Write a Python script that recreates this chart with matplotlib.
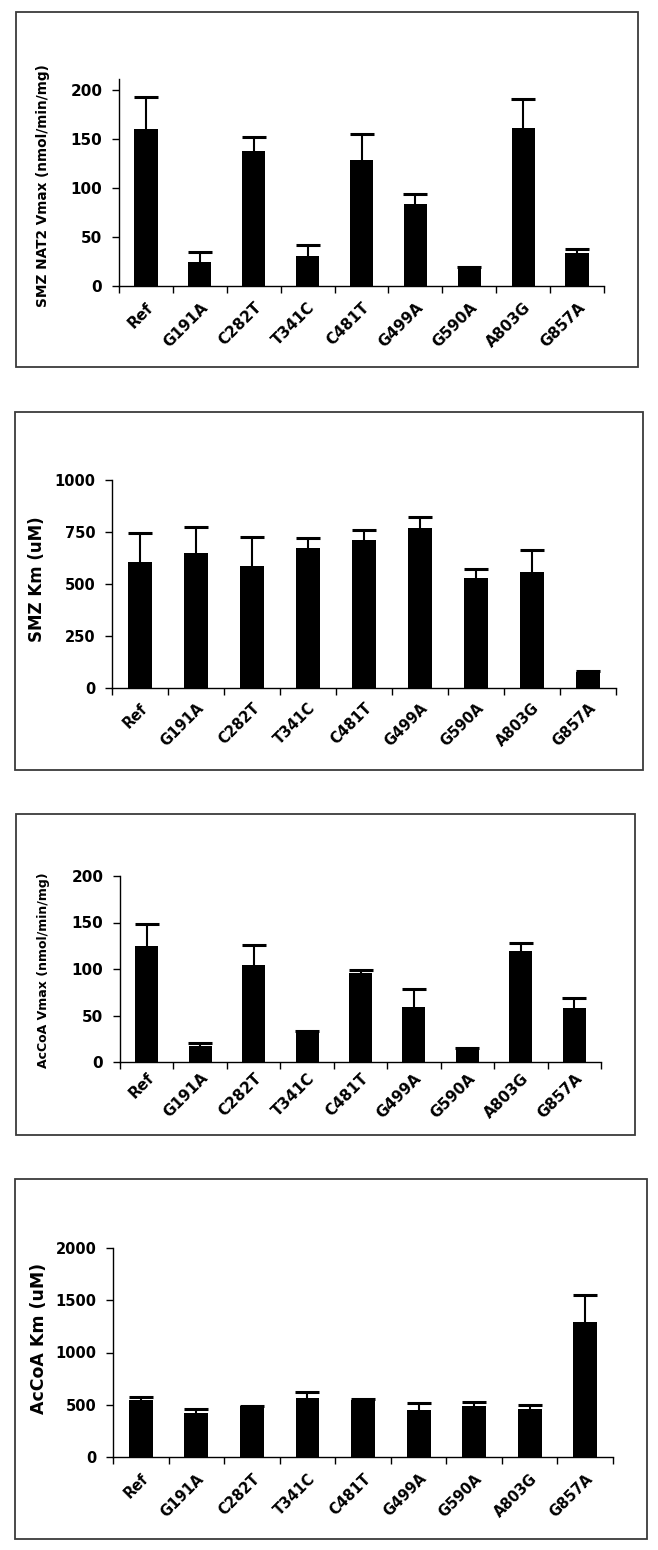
import matplotlib
matplotlib.use("Agg")
import matplotlib.pyplot as plt
from matplotlib.patches import Rectangle
from matplotlib.transforms import ScaledTranslation
import numpy as np

variants = ['Ref', 'G191A', 'C282T', 'T341C', 'C481T', 'G499A', 'G590A', 'A803G', 'G857A']

smz_vmax = [160, 24.5, 138, 31, 128, 84, 18.4, 161, 33.4]
smz_vmax_sd = [32.5, 10, 14, 11, 26.5, 10, 1, 30, 4.5]

smz_km = [604, 650, 586, 674, 710, 767, 530, 557, 77]
smz_km_sd = [141, 122, 141, 47, 48, 55, 43, 106, 6]

accoa_vmax = [124.5, 17.5, 104.5, 30.8, 95.2, 58.7, 13.2, 119.5, 58.3]
accoa_vmax_sd = [24.3, 2.5, 21.8, 2.8, 3.5, 19.7, 1.8, 8.9, 10]

accoa_km = [545, 418, 491, 565, 545, 447, 491, 456, 1292]
accoa_km_sd = [32, 41, 0, 54, 13, 67, 35, 38, 255]

plt.rcParams['font.family'] = ['DejaVu Sans']
plt.rcParams['font.weight'] = 'bold'

W, H = 658, 1550
fig = plt.figure(figsize=(W / 100, H / 100), dpi=100)


def px_rect(l, t, r, b):
    return [l / W, 1 - b / H, (r - l) / W, (b - t) / H]


panels = [
    dict(vals=smz_vmax, sd=smz_vmax_sd, ylabel='SMZ NAT2 Vmax (nmol/min/mg)',
         ylim=211, ticks=[0, 50, 100, 150, 200], ax=(119, 79, 604, 286),
         box=(16, 12, 638, 367), lsize=9.8, tsize=11, lab=(50, 186), xoff=-11, xpad=10),
    dict(vals=smz_km, sd=smz_km_sd, ylabel='SMZ Km (uM)',
         ylim=1000, ticks=[0, 250, 500, 750, 1000], ax=(112, 480, 616, 688),
         box=(15, 412, 643, 770), lsize=12, tsize=10.5, lab=(46, 579), xoff=-6, xpad=9),
    dict(vals=accoa_vmax, sd=accoa_vmax_sd, ylabel='AcCoA Vmax (nmol/min/mg)',
         ylim=200, ticks=[0, 50, 100, 150, 200], ax=(120, 876, 601, 1062),
         box=(16, 814, 635, 1135), lsize=9, tsize=11, lab=(50, 970), xoff=-11, xpad=6),
    dict(vals=accoa_km, sd=accoa_km_sd, ylabel='AcCoA Km (uM)',
         ylim=2000, ticks=[0, 500, 1000, 1500, 2000], ax=(113, 1248, 613, 1457),
         box=(15, 1179, 647, 1539), lsize=12.5, tsize=10.5, lab=(48, 1338), xoff=-5, xpad=10),
]

x = np.arange(len(variants))

for p in panels:
    l, t, r, b = p['box']
    fig.patches.append(Rectangle((l / W, 1 - b / H), (r - l) / W, (b - t) / H,
                                 transform=fig.transFigure, fill=False,
                                 edgecolor='#3a3a3a', linewidth=1.3))
    al, at, ar, ab = p['ax']
    ax = fig.add_axes(px_rect(al, at, ar, ab))
    vals = np.array(p['vals'], dtype=float)
    sd = np.array(p['sd'], dtype=float)
    ax.bar(x, vals, width=0.43, color='black', zorder=2)
    eb = ax.errorbar(x, vals, yerr=[np.zeros_like(sd), sd], fmt='none',
                     ecolor='black', elinewidth=1.5, capsize=8.5, capthick=2.2, zorder=3)
    # show only the upper cap
    caps = eb[1]
    if len(caps) >= 2:
        caps[0].set_visible(False)
    ax.set_xlim(-0.5, len(variants) - 0.5)
    ax.set_ylim(0, p['ylim'])
    ax.set_yticks(p['ticks'])
    ax.set_yticklabels([str(v) for v in p['ticks']], fontsize=p['tsize'], fontweight='bold')
    ax.set_xticks(x)
    ax.set_xticklabels(variants, rotation=45, ha='right', rotation_mode='anchor',
                       fontsize=p['tsize'], fontweight='bold')
    off = ScaledTranslation(p['xoff'] / 100, 0, fig.dpi_scale_trans)
    for lab in ax.get_xticklabels():
        lab.set_transform(lab.get_transform() + off)
    ax.set_xticks(np.arange(-0.5, len(variants)), minor=True)
    ax.tick_params(axis='x', which='major', length=0, pad=p['xpad'])
    ax.tick_params(axis='x', which='minor', length=5, width=1, direction='out')
    ax.tick_params(axis='y', length=5, width=1, direction='out', pad=7)
    for s in ['top', 'right']:
        ax.spines[s].set_visible(False)
    for s in ['left', 'bottom']:
        ax.spines[s].set_linewidth(1)
    ax.set_ylabel(p['ylabel'], fontsize=p['lsize'], fontweight='bold')
    lx, ly = p['lab']
    ax.yaxis.set_label_coords((lx - al) / (ar - al), (ab - ly) / (ab - at))

fig.savefig('out.png', dpi=100)
